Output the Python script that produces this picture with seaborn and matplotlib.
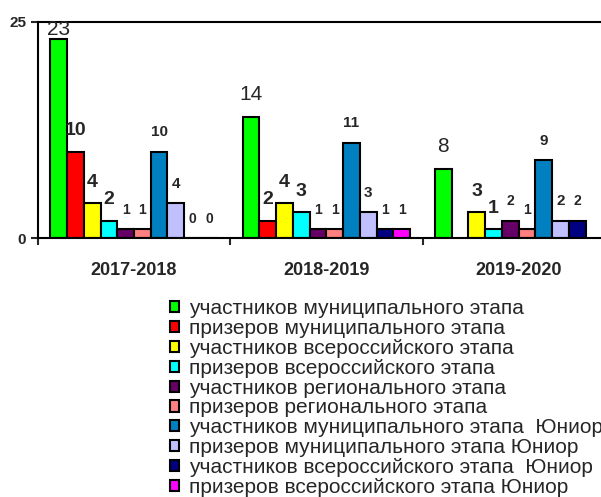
import numpy as np
import pandas as pd
import seaborn as sns
import matplotlib.pyplot as plt
from matplotlib.ticker import FixedLocator

# data
years = ["2017-2018", "2018-2019", "2019-2020"]
series = [
    "участников муниципального этапа",
    "призеров муниципального этапа",
    "участников всероссийского этапа",
    "призеров всероссийского этапа",
    "участников регионального этапа",
    "призеров регионального этапа",
    "участников муниципального этапа  Юниор",
    "призеров муниципального этапа Юниор",
    "участников всероссийского этапа  Юниор",
    "призеров всероссийского этапа Юниор",
]
v_2017 = [23, 10, 4, 2, 1, 1, 10, 4, 0, 0]
v_2018 = [14, 2, 4, 3, 1, 1, 11, 3, 1, 1]
v_2019 = [8, np.nan, 3, 1, 2, 1, 9, 2, 2, np.nan]

colors = ["#00ff00", "#ff0000", "#ffff00", "#00ffff", "#660066",
          "#ff8080", "#0080c0", "#c0c0ff", "#000080", "#ff00ff"]

rows = []
for yr, vals in zip(years, [v_2017, v_2018, v_2019]):
    for s, v in zip(series, vals):
        rows.append({"year": yr, "series": s, "value": v})
df = pd.DataFrame(rows)

sns.set_style("white")
plt.rcParams['font.family'] = ['Liberation Sans', 'DejaVu Sans']

fig = plt.figure(figsize=(6.01, 4.97), dpi=100)
ax = fig.add_axes([0.063, 0.521, 0.96, 0.435])

sns.barplot(data=df, x="year", y="value", hue="series", hue_order=series,
            order=years, palette=colors, width=0.87, edgecolor="black",
            linewidth=1.5, saturation=1, ax=ax, legend=True)

ax.set_ylim(0, 25)

# label look per series (size, bold)
lab_size = [15, 14, 14, 14, 10, 10, 11, 11, 10, 10]
lab_bold = [False, True, True, True, True, True, True, True, True, True]
for i, cont in enumerate(ax.containers):
    anns = ax.bar_label(cont, fmt="%g", padding=9, fontsize=lab_size[i],
                        fontweight="bold" if lab_bold[i] else "normal")
    # the tallest label sits lower, against the top of the plot area
    for bar, a in zip(cont, anns):
        if bar.get_height() > 0.9 * 25:
            a.xyann = (0, 0)

ax.set_yticks([0, 25])
ax.set_xlim(-0.5, 2.5)
ax.xaxis.set_minor_locator(FixedLocator([-0.5, 0.5, 1.5]))
ax.tick_params(axis="x", which="major", length=0, pad=17, labelsize=13)
ax.tick_params(axis="x", which="minor", length=5, width=1.5, direction="out", bottom=True)
ax.tick_params(axis="y", length=5, width=1.5, direction="out", left=True, labelsize=11)
for t in ax.get_xticklabels() + ax.get_yticklabels():
    t.set_fontweight("bold")
ax.set_xlabel("")
ax.set_ylabel("")
for sp in ax.spines.values():
    sp.set_color("black")
    sp.set_linewidth(1.5)

handles, labels = ax.get_legend_handles_labels()
ax.get_legend().remove()
fig.legend(handles, labels, loc="upper left", bbox_to_anchor=(0.283, 0.398),
           frameon=False, fontsize=15, handlelength=0.45, handleheight=0.45,
           handletextpad=0.45, labelspacing=0.04, borderpad=0, borderaxespad=0)

fig.savefig("out.png", dpi=100)
